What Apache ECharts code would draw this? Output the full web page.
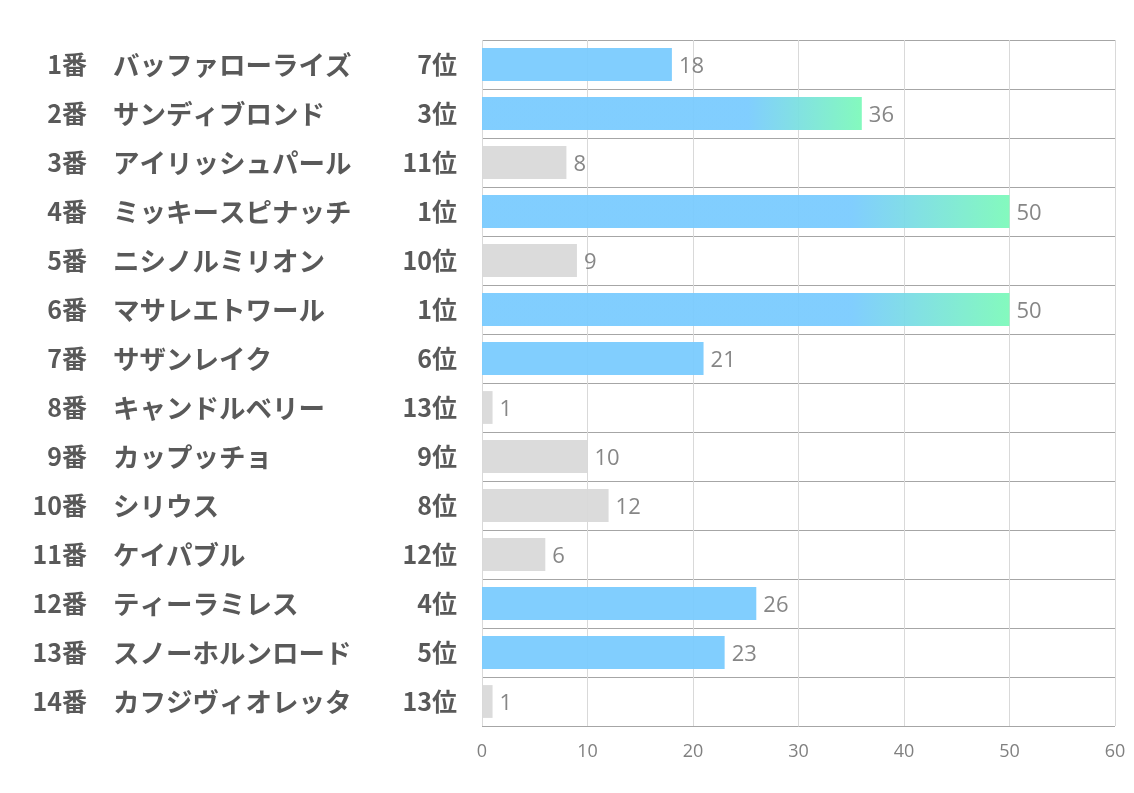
<!DOCTYPE html>
<html><head><meta charset="utf-8">
<script src="https://cdn.jsdelivr.net/npm/echarts@6/dist/echarts.min.js"></script>
<style>html,body{margin:0;padding:0;background:#fff}#c{width:1134px;height:793px}</style>
</head><body><div id="c"></div>
<script>
const horseNumbers = ['1番','2番','3番','4番','5番','6番','7番','8番','9番','10番','11番','12番','13番','14番'];
const horseNames = ['バッファローライズ','サンディブロンド','アイリッシュパール','ミッキースピナッチ','ニシノルミリオン','マサレエトワール','サザンレイク','キャンドルベリー','カップッチョ','シリウス','ケイパブル','ティーラミレス','スノーホルンロード','カフジヴィオレッタ'];
const ranks = [7,3,11,1,10,1,6,13,9,8,12,4,5,13];
const values = [18,36,8,50,9,50,21,1,10,12,6,26,23,1];
const xTicks = [0,10,20,30,40,50,60];

const BLUE = '#7ACBFE', GREEN = '#7DF9BA', GRAY = '#D9D9D9';
function barColor(r){
  if (r <= 3) return {type:'linear',x:0,y:0,x2:1,y2:0,colorStops:[{offset:0,color:BLUE},{offset:0.7,color:BLUE},{offset:1,color:GREEN}]};
  if (r <= 7) return BLUE;
  return GRAY;
}
const rankLabels = ranks.map(r=>r+'位');
const data = values.map((v,i)=>({value:v,itemStyle:{color:barColor(ranks[i]),opacity:0.95}}));

const FONT = {fontWeight:'bold',color:'#595959',fontFamily:'Noto Sans CJK JP'};
function catAxis(labels, align, margin, split, size){
  return {type:'category',inverse:true,data:labels,position:'left',offset:0,
    axisLine:{show:false},axisTick:{show:false},
    splitLine:{show:split,lineStyle:{color:'#A6A6A6',width:1}},
    axisLabel:Object.assign({align:align,margin:margin,fontSize:size},FONT)};
}

const chart = echarts.init(document.getElementById('c'));
chart.setOption({
  animation:false,
  grid:{left:482,right:19,top:40,bottom:67},
  xAxis:{type:'value',min:xTicks[0],max:xTicks[xTicks.length-1],interval:10,
    axisLine:{show:false},axisTick:{show:false},
    axisLabel:{color:'#808080',fontSize:18,fontFamily:'Open Sans',margin:17},
    splitLine:{show:true,lineStyle:{color:'#D9D9D9',width:1}}},
  yAxis:[
    catAxis(rankLabels,'right',25,true,25),
    catAxis(horseNames,'left',369,false,26.5),
    catAxis(horseNumbers,'right',395,false,25)
  ],
  series:[{type:'bar',data:data,yAxisIndex:0,barCategoryGap:'33%',
    label:{show:true,position:'right',distance:7,offset:[0,2],color:'#7F7F7F',fontSize:22,fontFamily:'Open Sans'}}]
});
</script></body></html>
